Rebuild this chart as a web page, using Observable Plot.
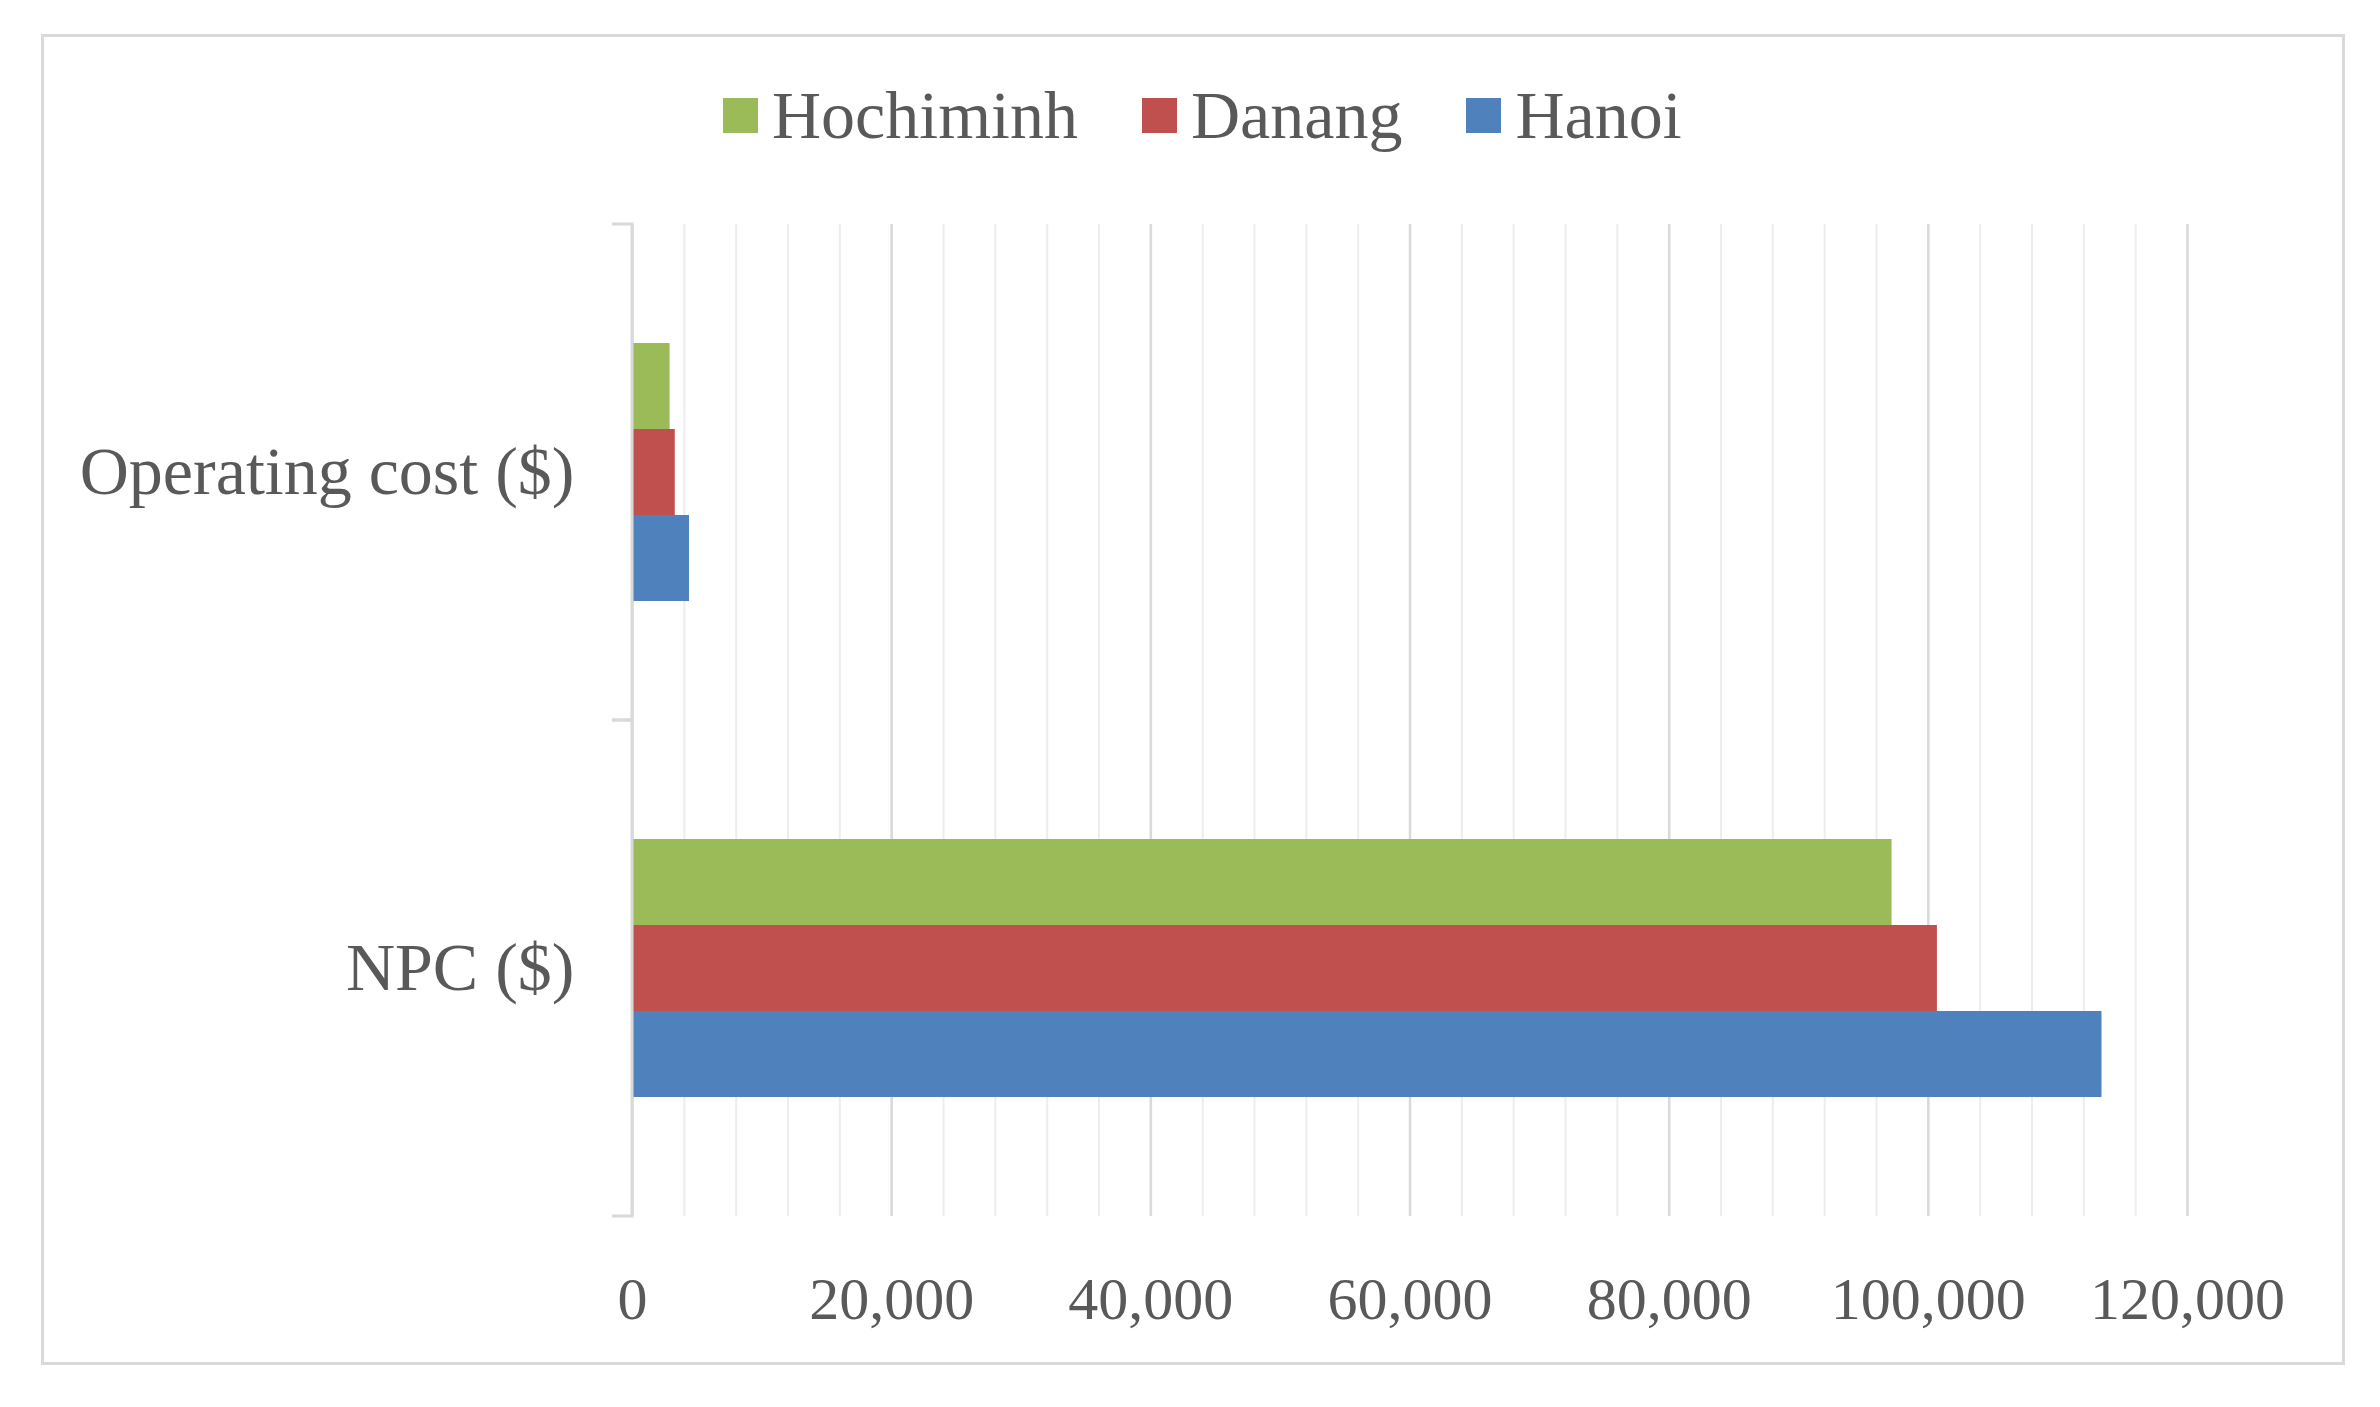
<!DOCTYPE html>
<html>
<head>
<meta charset="utf-8">
<script src="https://cdn.jsdelivr.net/npm/d3@7"></script>
<script src="https://cdn.jsdelivr.net/npm/@observablehq/plot@0.6"></script>
<style>
  html, body { margin: 0; padding: 0; background: #fff; }
  #wrap { position: relative; width: 2380px; height: 1407px; overflow: hidden; font-family: "Liberation Serif", "Times New Roman", serif; color: #595959; }
  #border { position: absolute; left: 41px; top: 34px; width: 2298px; height: 1325px; border: 3px solid #d9d9d9; }
  #legend { position: absolute; left: 723px; top: 81px; display: flex; align-items: center; font-size: 68px; line-height: 68px; }
  .item { display: flex; align-items: center; margin-right: 64px; }
  .sw { width: 35px; height: 35px; margin-right: 14px; }
  #chart { position: absolute; left: 0; top: 160px; }
</style>
</head>
<body>
<div id="wrap">
  <div id="border"></div>
  <div id="legend"></div>
  <div id="chart"></div>
</div>
<script>
// ---- data ----
const categories = ["Operating cost ($)", "NPC ($)"];
const cities = ["Hochiminh", "Danang", "Hanoi"];
const hochiminh = [2900, 97200];
const danang = [3300, 100700];
const hanoi = [4400, 113400];
const xTickValues = [0, 20000, 40000, 60000, 80000, 100000, 120000];
const colors = ["#9BBB59", "#C0504D", "#4F81BD"];

const series = {Hochiminh: hochiminh, Danang: danang, Hanoi: hanoi};
const rows = [];
categories.forEach((c, i) => cities.forEach(city => rows.push({category: c, city, value: series[city][i]})));

// legend
const legend = document.getElementById("legend");
cities.forEach((city, i) => {
  const item = document.createElement("div");
  item.className = "item";
  const sw = document.createElement("div");
  sw.className = "sw";
  sw.style.background = colors[i];
  const t = document.createElement("span");
  t.textContent = city;
  item.appendChild(sw);
  item.appendChild(t);
  legend.appendChild(item);
});

const minorTicks = d3.range(xTickValues[0], xTickValues[xTickValues.length - 1] + 1, 4000);

function axisLine(index, scales, values, dimensions) {
  const {marginTop, marginBottom, height} = dimensions;
  const x0 = scales.x(0);
  const y1 = marginTop, y2 = height - marginBottom;
  const g = d3.create("svg:g");
  g.append("path")
    .attr("d", `M${x0 - 20},${y1}H${x0}V${y2}H${x0 - 20}`)
    .attr("fill", "none")
    .attr("stroke", "#d9d9d9")
    .attr("stroke-width", 3);
  return g.node();
}

const chart = Plot.plot({
  width: 2380,
  height: 1247,
  marginLeft: 632,
  marginRight: 193,
  marginTop: 63,
  marginBottom: 191,
  style: {fontFamily: "Liberation Serif, Times New Roman, serif", color: "#595959", background: "transparent"},
  x: {domain: [0, 120000], axis: null},
  y: {domain: cities, paddingInner: 0, paddingOuter: 1.36, axis: null},
  fy: {domain: categories, padding: 0, axis: null},
  color: {domain: cities, range: colors},
  marks: [
    Plot.gridX({ticks: minorTicks, stroke: "#ededed", strokeOpacity: 1, strokeWidth: 2}),
    Plot.gridX({ticks: xTickValues, stroke: "#d9d9d9", strokeOpacity: 1, strokeWidth: 2.5}),
    Plot.barX(rows, {x: "value", y: "city", fy: "category", fill: "city"}),
    axisLine,
    Plot.axisX({ticks: xTickValues, tickSize: 0, tickPadding: 60, fontSize: 60, tickFormat: d3.format(","), label: null}),
    Plot.axisFy({anchor: "left", tickSize: 0, tickPadding: 58, fontSize: 68, label: null})
  ]
});
document.getElementById("chart").appendChild(chart);
</script>
</body>
</html>
